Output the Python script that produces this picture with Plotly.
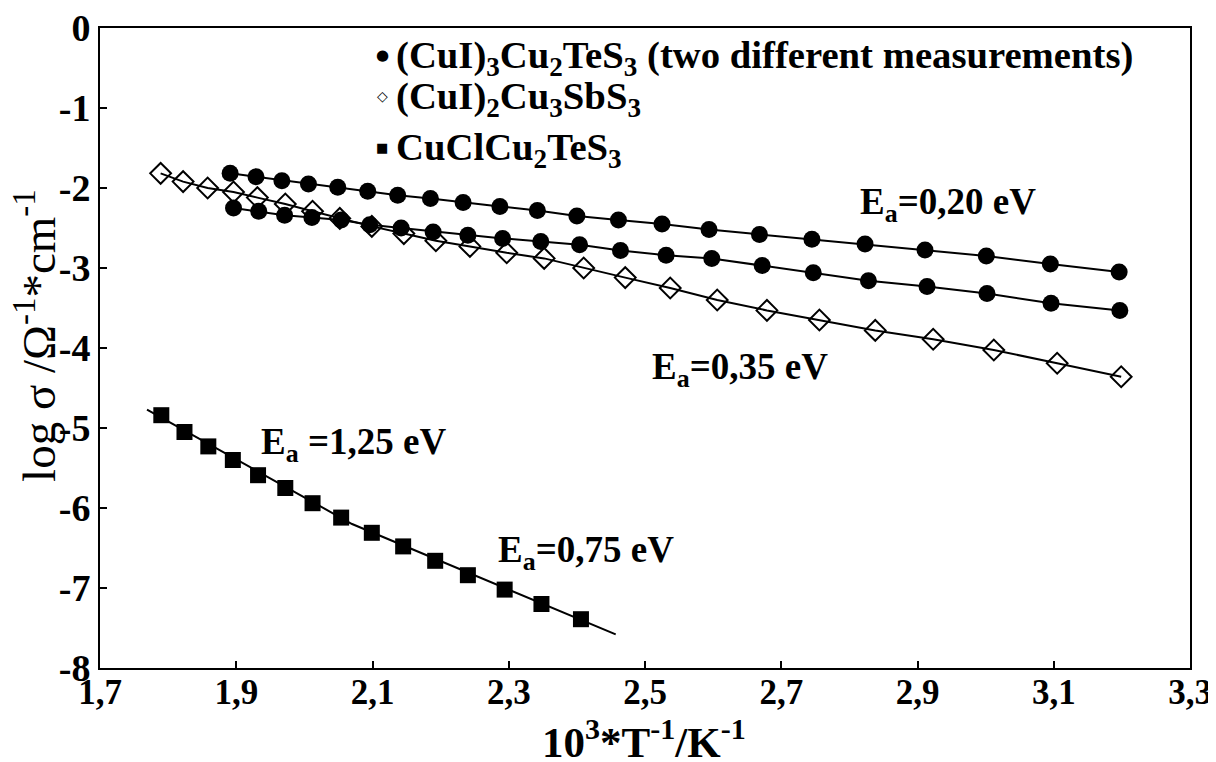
import plotly.graph_objects as go

# ---- data ----
x_tes_a = [1.891, 1.929, 1.967, 2.006, 2.049, 2.093, 2.137, 2.185, 2.233, 2.287, 2.342,
           2.400, 2.461, 2.525, 2.594, 2.668, 2.745, 2.823, 2.911, 3.001, 3.095, 3.196]
y_tes_a = [-1.817, -1.858, -1.908, -1.95, -1.99, -2.04, -2.09, -2.13, -2.18, -2.23, -2.28,
           -2.35, -2.40, -2.45, -2.52, -2.58, -2.64, -2.70, -2.775, -2.85, -2.95, -3.05]

x_tes_b = [1.896, 1.933, 1.971, 2.011, 2.054, 2.096, 2.142, 2.189, 2.240, 2.291, 2.347,
           2.404, 2.464, 2.531, 2.598, 2.672, 2.747, 2.828, 2.914, 3.002, 3.096, 3.197]
y_tes_b = [-2.25, -2.29, -2.34, -2.37, -2.40, -2.46, -2.50, -2.55, -2.59, -2.63, -2.67,
           -2.71, -2.78, -2.84, -2.88, -2.97, -3.06, -3.16, -3.23, -3.32, -3.44, -3.53]

x_sbs = [1.789, 1.822, 1.858, 1.896, 1.931, 1.972, 2.012, 2.052, 2.099, 2.146, 2.193, 2.243,
         2.297, 2.352, 2.410, 2.471, 2.537, 2.606, 2.679, 2.756, 2.838, 2.923, 3.012, 3.105, 3.199]
y_sbs = [-1.817, -1.92, -2.00, -2.05, -2.12, -2.20, -2.29, -2.38, -2.48, -2.57, -2.66, -2.73,
         -2.81, -2.88, -3.00, -3.12, -3.25, -3.40, -3.53, -3.65, -3.78, -3.89, -4.025, -4.19, -4.36]

x_cucl = [1.790, 1.824, 1.859, 1.895, 1.932, 1.972, 2.012, 2.054, 2.099, 2.145, 2.192,
          2.240, 2.294, 2.348, 2.406]
y_cucl = [-4.84, -5.05, -5.23, -5.40, -5.59, -5.75, -5.94, -6.12, -6.31, -6.48, -6.66,
          -6.84, -7.02, -7.20, -7.39]

# fit line for CuClCu2TeS3 (two linear regimes)
fit_cucl_x = [1.769, 2.07, 2.457]
fit_cucl_y = [-4.77, -6.20, -7.58]

x_ticks = [1.7, 1.9, 2.1, 2.3, 2.5, 2.7, 2.9, 3.1, 3.3]
x_ticklabels = ["1,7", "1,9", "2,1", "2,3", "2,5", "2,7", "2,9", "3,1", "3,3"]
y_ticks = [0, -1, -2, -3, -4, -5, -6, -7, -8]
y_ticklabels = ["0", "-1", "-2", "-3", "-4", "-5", "-6", "-7", "-8"]

legend_names = ["(CuI)<sub>3</sub>Cu<sub>2</sub>TeS<sub>3</sub> (two different measurements)",
                "(CuI)<sub>2</sub>Cu<sub>3</sub>SbS<sub>3</sub>",
                "CuClCu<sub>2</sub>TeS<sub>3</sub>"]
legend_symbols = ["●", "◇", "■"]

ea_labels = ["E<sub>a</sub>=0,20 eV", "E<sub>a</sub>=0,35 eV",
             "E<sub>a</sub> =1,25 eV", "E<sub>a</sub>=0,75 eV"]

x_title = "10<sup>3</sup>*T<sup>-1</sup>/K<sup>-1</sup>"
y_title = "log σ /Ω<sup>-1</sup>*cm<sup>-1</sup>"

# ---- figure ----
FONT = '"Liberation Serif", "Times New Roman", Times, serif'
fig = go.Figure()

line_style = dict(color="black", width=2)

fig.add_trace(go.Scatter(x=x_sbs, y=y_sbs, mode="lines+markers", line=line_style,
                         marker=dict(symbol="diamond-open", size=16, color="black",
                                     line=dict(width=2, color="black"))))
fig.add_trace(go.Scatter(x=x_tes_a, y=y_tes_a, mode="lines+markers", line=line_style,
                         marker=dict(symbol="circle", size=17, color="black")))
fig.add_trace(go.Scatter(x=x_tes_b, y=y_tes_b, mode="lines+markers", line=line_style,
                         marker=dict(symbol="circle", size=17, color="black")))
fig.add_trace(go.Scatter(x=fit_cucl_x, y=fit_cucl_y, mode="lines", line=line_style))
fig.add_trace(go.Scatter(x=x_cucl, y=y_cucl, mode="markers",
                         marker=dict(symbol="square", size=16, color="black")))

annotations = []
# legend rows
leg_y = [-0.375, -0.89, -1.53]
sym_sizes = [15, 14, 13]
for name, sym, yy, ss in zip(legend_names, legend_symbols, leg_y, sym_sizes):
    annotations.append(dict(x=2.114, y=yy + 0.04, xref="x", yref="y", text=sym, showarrow=False,
                            xanchor="center", yanchor="middle",
                            font=dict(family="DejaVu Sans", size=ss, color="black")))
    annotations.append(dict(x=2.131, y=yy, xref="x", yref="y", text=name, showarrow=False,
                            xanchor="left", yanchor="middle",
                            font=dict(family=FONT, size=38.7, color="black", weight="bold")))

ea_pos = [(2.945, -2.20, "center"), (2.507, -4.27, "left"),
          (1.934, -5.21, "left"), (2.282, -6.56, "left")]
for lab, (xx, yy, anc) in zip(ea_labels, ea_pos):
    annotations.append(dict(x=xx, y=yy, xref="x", yref="y", text=lab, showarrow=False,
                            xanchor=anc, yanchor="middle",
                            font=dict(family=FONT, size=37, color="black", weight="bold")))

# axis titles
annotations.append(dict(x=0.499, y=-0.111, xref="paper", yref="paper", text=x_title,
                        showarrow=False, xanchor="center", yanchor="middle",
                        font=dict(family=FONT, size=43, color="black", weight="bold")))
annotations.append(dict(x=-0.059, y=0.52, xref="paper", yref="paper", text=y_title,
                        showarrow=False, xanchor="center", yanchor="middle", textangle=-90,
                        font=dict(family=FONT, size=47, color="black")))

# the page body adds an 8px offset; size the figure so the plot area lands at
# x 100..1190 and y 28..668 of the 1216x762 window
fig.update_layout(
    width=1208, height=754,
    margin=dict(l=92, r=26, t=20, b=94),
    plot_bgcolor="white", paper_bgcolor="white",
    showlegend=False,
    annotations=annotations,
    xaxis=dict(range=[1.7, 3.3], tickvals=x_ticks, ticktext=x_ticklabels,
               ticks="inside", ticklen=7, tickwidth=2, tickcolor="black",
               showline=True, linewidth=2, linecolor="black", mirror=True,
               showgrid=False, zeroline=False, automargin=False,
               ticklabeloverflow="allow", ticklabelstandoff=-8,
               tickfont=dict(family=FONT, size=35, color="black", weight="bold")),
    yaxis=dict(range=[-8, 0], tickvals=y_ticks, ticktext=y_ticklabels,
               ticks="inside", ticklen=7, tickwidth=2, tickcolor="black",
               showline=True, linewidth=2, linecolor="black", mirror=True,
               showgrid=False, zeroline=False, automargin=False,
               ticklabeloverflow="allow",
               tickfont=dict(family=FONT, size=38, color="black", weight="bold")),
)

fig.write_html("out.html")
